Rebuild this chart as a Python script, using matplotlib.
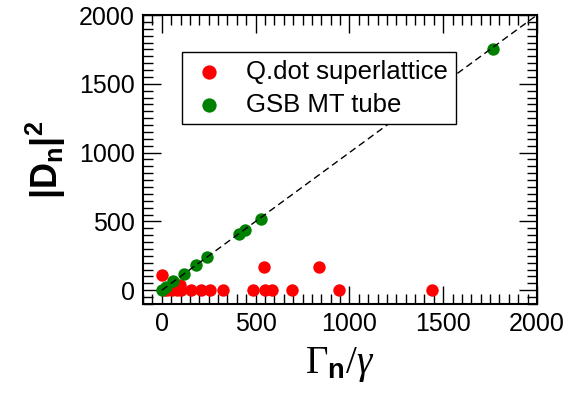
import matplotlib
matplotlib.use('Agg')
import matplotlib.pyplot as plt
from matplotlib.ticker import MultipleLocator

plt.rcParams['font.family'] = ['Liberation Sans', 'DejaVu Sans']
plt.rcParams['mathtext.fontset'] = 'custom'
plt.rcParams['mathtext.rm'] = 'Liberation Serif'
plt.rcParams['mathtext.it'] = 'Liberation Serif:italic'
plt.rcParams['mathtext.bf'] = 'Liberation Sans:bold'

# Q.dot superlattice
qdot_x = [10, 30, 55, 80, 100, 95, 0, 158, 211, 256, 327, 487, 549, 590, 695, 945, 1439, 545, 837]
qdot_y = [0, 0, 0, 0, 0, 35, 109, 0, 0, 0, 0, 0, 0, 0, 0, 0, 0, 169, 169]

# GSB MT tube
gsb_x = [0, 20, 60, 120, 185, 240, 412, 444, 528, 1766]
gsb_y = [5, 20, 68, 118, 185, 242, 411, 435, 514, 1751]

diag = [0, 2000]


def work():
    fig = plt.figure(figsize=(5.66, 3.97), dpi=100)
    ax = fig.add_axes([0.2527, 0.2343, 0.6961, 0.7279])

    ax.scatter(qdot_x, qdot_y, s=80, color='#ff0000', linewidths=0,
               label='Q.dot superlattice', zorder=2)
    ax.scatter(gsb_x, gsb_y, s=80, color='#008000', linewidths=0,
               label='GSB MT tube', zorder=3)
    ax.plot(diag, diag, color='black', lw=1.0, dashes=(5, 3), zorder=4)

    ax.set_xlim(-100, 2000)
    ax.set_ylim(-100, 2000)
    ax.xaxis.set_major_locator(MultipleLocator(500))
    ax.yaxis.set_major_locator(MultipleLocator(500))
    ax.xaxis.set_minor_locator(MultipleLocator(50))
    ax.yaxis.set_minor_locator(MultipleLocator(50))
    ax.tick_params(which='both', direction='in', top=True, right=True, width=1.0)
    ax.tick_params(which='major', length=13, labelsize=18, pad=6)
    ax.tick_params(which='minor', length=7)
    for sp in ax.spines.values():
        sp.set_linewidth(1.5)

    ax.set_xlabel(r'$\Gamma_{\mathbf{n}}/\gamma$', fontsize=28, labelpad=6)
    ax.set_ylabel(r'$\mathbf{|D_n|^2}$', fontsize=26, labelpad=8)

    leg = ax.legend(loc='upper left', bbox_to_anchor=(0.099, 0.872),
                    borderaxespad=0, fontsize=18.5, frameon=True, fancybox=False,
                    framealpha=1, borderpad=0.3, handlelength=1.5,
                    handletextpad=0.7, labelspacing=0.35, scatterpoints=1,
                    markerscale=1.15)
    leg.set_zorder(10)
    leg.get_frame().set_edgecolor('black')
    leg.get_frame().set_linewidth(1.0)

    fig.savefig('out.png', dpi=100)


if __name__ == '__main__':
    work()
